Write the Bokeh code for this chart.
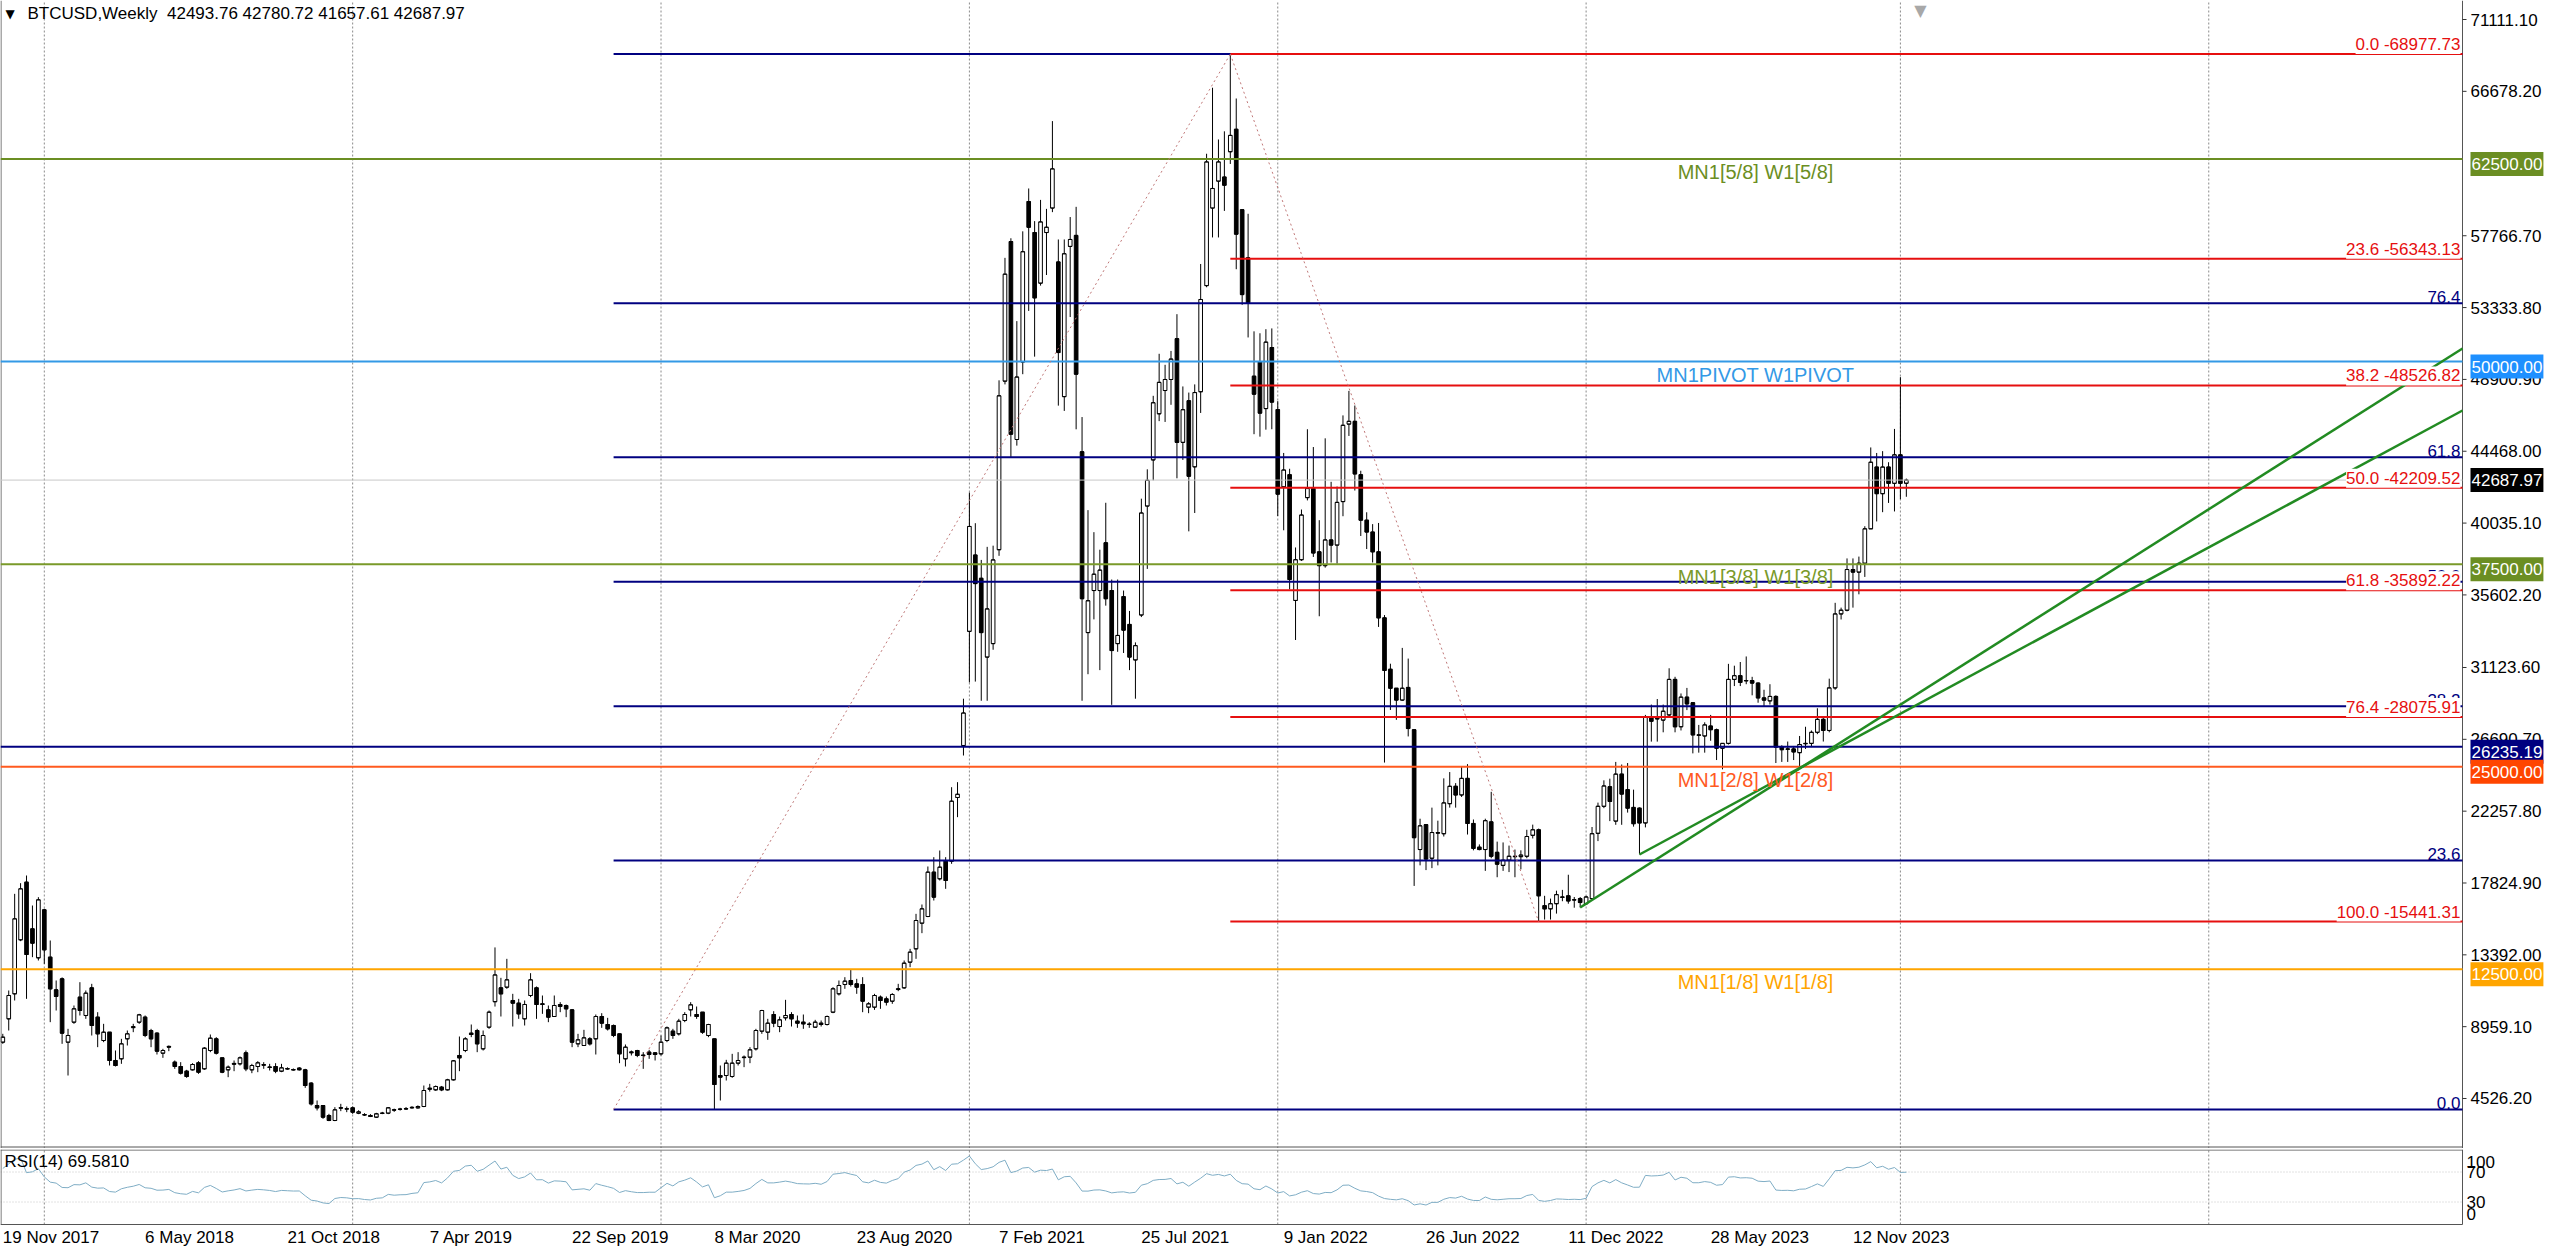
from bokeh.plotting import figure
from bokeh.models import Range1d, Label, ColumnDataSource
from bokeh.layouts import column
from bokeh.embed import file_html
from bokeh.resources import INLINE

# ---------------- data (weekly BTCUSD) ----------------
opens = [
    8002, 9442, 10985, 14317, 17876, 14996, 13206, 16169, 13248, 11232,
    11910, 8002, 9237, 10779, 9648, 11355, 9545, 8105, 8619, 6871,
    6974, 8208, 8900, 9236, 9545, 8722, 8557, 7323, 7740, 6768,
    6500, 6212, 6295, 6727, 6357, 7488, 8208, 7035, 6295, 6640,
    6665, 7344, 6295, 6500, 6580, 6440, 6500, 6212, 6370, 6310,
    6400, 6295, 5472, 4094, 4094, 3477, 3168, 3930, 3880, 3950,
    3620, 3530, 3477, 3374, 3610, 3621, 3810, 3860, 3900, 3950,
    3950, 4032, 5160, 5060, 5226, 5060, 5678, 7180, 7488, 8557,
    8722, 7591, 8927, 10500, 11355, 11396, 10574, 10409, 9442, 10882,
    11355, 10330, 9997, 9586, 10326, 10265, 9997, 7899, 7796, 8208,
    8208, 9586, 9092, 9031, 8516, 6974, 7350, 7488, 7200, 7385,
    7344, 7282, 8105, 8681, 8516, 9339, 9997, 9709, 9853, 8413,
    8208, 5945, 5945, 5884, 6707, 7050, 7077, 7591, 8681, 8619,
    9709, 8968, 9504, 9709, 9297, 9236, 9100, 8928, 9174, 9092,
    9853, 10985, 11561, 11808, 11602, 11561, 10162, 10162, 10779, 10676,
    10532, 11250, 11355, 12939, 13762, 15346, 15757, 18493, 18082, 19172,
    19172, 23100, 26310, 33354, 38064, 36628, 31766, 32597, 38392, 48795,
    57410, 45192, 49979, 59878, 57964, 54840, 57964, 59475, 56150, 47838,
    57108, 57788, 44437, 33277, 35872, 35872, 38820, 35872, 32597, 35494,
    33781, 31589, 34361, 41086, 43933, 46779, 48215, 48896, 51415, 45016,
    47586, 43505, 48140, 54689, 59475, 61137, 61389, 62951, 64337, 59374,
    56402, 49098, 49979, 47100, 50870, 47040, 42270, 43020, 35261, 37774,
    41605, 42166, 38262, 37408, 38994, 38677, 41361, 46143, 46314, 43020,
    40214, 39482, 38262, 34187, 31015, 29844, 29112, 29893, 27282, 19889,
    21426, 19352, 20900, 20865, 22719, 23793, 23256, 24281, 21499, 20035,
    19889, 21597, 19718, 18913, 19230, 19450, 19450, 19474, 20768, 21109,
    16424, 16229, 16546, 16940, 17034, 16780, 16863, 16546, 16863, 20891,
    22557, 23767, 21644, 24544, 23584, 22489, 22443, 21530, 28037, 27950,
    27876, 28196, 30389, 27466, 29293, 28949, 26940, 26896, 27512, 27284,
    26142, 26440, 30389, 30617, 30300, 30320, 30160, 29247, 29064, 29338,
    26211, 26080, 26097, 25868, 26420, 26440, 27124, 27923, 27238, 29863,
    34429, 34657, 37169, 37009, 37557, 39680, 43493, 41849, 43493, 42489,
    44247, 42493.76,
]
highs = [
    8517, 11191, 17156, 17814, 18287, 16436, 16950, 16230, 14276, 11808,
    12000, 8825, 10265, 11704, 11191, 11602, 9853, 9134, 8619, 7488,
    8208, 8722, 9134, 9750, 9648, 8825, 8619, 7591, 7797, 6871,
    6768, 6295, 6706, 6830, 7694, 8475, 8311, 7035, 6562, 6871,
    7118, 7488, 6665, 6830, 6768, 6665, 6706, 6665, 6450, 6380,
    6460, 6357, 5534, 4402, 4094, 3580, 3991, 4197, 4032, 4032,
    3800, 3620, 3560, 3640, 3700, 4000, 3900, 3950, 4000, 4050,
    4100, 5328, 5430, 5330, 5300, 5740, 6900, 8352, 8311, 9092,
    8825, 8722, 9956, 13850, 11972, 13145, 10985, 10676, 10574, 12260,
    11437, 10882, 10265, 10882, 10471, 10326, 10050, 8516, 8763, 8310,
    9709, 9791, 9504, 9092, 8516, 7859, 7488, 7529, 7385, 7529,
    7385, 8413, 8969, 8825, 9442, 9853, 10471, 10203, 9853, 9134,
    8208, 6562, 6912, 7282, 7385, 7180, 7694, 8825, 9997, 9442,
    9915, 9586, 10615, 9853, 9647, 9709, 9236, 9380, 9339, 9647,
    11396, 11808, 12013, 12466, 11910, 12013, 10471, 10985, 10882, 10820,
    11026, 11602, 13042, 13762, 15921, 16497, 18843, 19418, 19830, 19418,
    23738, 24047, 29197, 41918, 40028, 37762, 38568, 38641, 48845, 56402,
    57612, 52498, 58039, 60684, 58669, 59979, 59425, 64841, 57536, 57536,
    58921, 59551, 46578, 40834, 39475, 38392, 41288, 36552, 36552, 35872,
    34613, 32673, 41541, 43353, 47888, 50482, 49802, 50659, 52926, 48467,
    48089, 48593, 56024, 62826, 66900, 63707, 64211, 68977.73, 66236, 59374,
    59122, 51868, 51749, 52000, 52048, 47560, 44362, 43386, 38530, 40873,
    45826, 44728, 40214, 45265, 42581, 42288, 46680, 48193, 47290, 43264,
    40702, 39970, 40043, 34358, 31357, 29844, 32333, 31674, 27282, 21792,
    21426, 22475, 21670, 24281, 24671, 23988, 25013, 25159, 21743, 20206,
    21792, 23451, 20377, 20328, 20133, 19889, 19840, 21109, 21426, 21182,
    17034, 16863, 17351, 17400, 18334, 16961, 16961, 17034, 21280, 22785,
    24160, 24262, 25297, 25137, 25228, 23584, 22489, 28197, 28835, 29178,
    28835, 31074, 30549, 29521, 29863, 28949, 27580, 27740, 28196, 27352,
    26440, 31348, 31234, 31462, 31804, 30548, 30206, 29749, 30092, 29406,
    26325, 26554, 26280, 26897, 27466, 27238, 28608, 28037, 30434, 35114,
    34817, 37854, 37854, 37968, 39840, 44703, 44361, 44475, 43790, 45845,
    49041, 42780.72,
]
lows = [
    7899, 8722, 10574, 14235, 10676, 13248, 13042, 12836, 9237, 9956,
    7899, 5945, 9134, 9648, 9442, 8413, 7694, 8002, 6562, 6501,
    6665, 7797, 8620, 9134, 8311, 7694, 7241, 7035, 7447, 6357,
    6007, 5801, 6254, 6048, 6295, 7385, 7241, 6089, 5842, 6212,
    6562, 6212, 6089, 6151, 6357, 6254, 6089, 6151, 6300, 6250,
    6250, 5184, 4093, 3786, 3271, 3127, 3127, 3745, 3683, 3580,
    3560, 3450, 3380, 3330, 3560, 3560, 3700, 3780, 3820, 3900,
    3900, 3991, 4950, 5000, 4980, 5019, 5637, 6212, 7385, 8311,
    7385, 7488, 8824, 10200, 9586, 11293, 8969, 9442, 9031, 10779,
    9442, 9750, 9236, 9586, 9853, 9545, 7694, 7694, 7796, 7796,
    7241, 8887, 8722, 8311, 6707, 6501, 7180, 7077, 6357, 6974,
    6871, 7180, 8002, 8208, 8413, 9236, 9586, 9442, 8516, 8311,
    3850, 4402, 5637, 5802, 6562, 6460, 6707, 7488, 8516, 8146,
    8928, 8619, 9339, 8969, 8887, 8825, 8887, 8887, 8969, 9031,
    9791, 10882, 11294, 11437, 10985, 9853, 9791, 9997, 10059, 10265,
    10368, 11149, 11294, 12630, 13145, 14729, 15716, 16744, 17979, 17464,
    19007, 21887, 25692, 30205, 30255, 29071, 29071, 32219, 38014, 48593,
    44059, 44815, 49223, 53127, 50306, 54689, 55344, 59223, 47283, 46956,
    52750, 45822, 29071, 30709, 34092, 30961, 34940, 28818, 32093, 32018,
    30961, 29197, 34235, 37208, 42673, 46326, 46276, 47334, 42799, 43933,
    39525, 40658, 46831, 54588, 57662, 57662, 59299, 62196, 55700, 53505,
    51490, 45520, 45369, 45800, 45826, 40470, 39590, 35944, 32821, 37701,
    41434, 37945, 34285, 37286, 37603, 37530, 40458, 45411, 42044, 39238,
    38433, 37603, 33626, 25257, 28502, 27892, 29063, 26868, 17644, 18913,
    18620, 18742, 18913, 20694, 22475, 22475, 23134, 20816, 19840, 19840,
    18572, 19352, 18181, 18572, 18498, 18181, 18669, 19352, 20572, 15441.31,
    15570, 15570, 15936, 16700, 16546, 16300, 16312, 16473, 16790, 20410,
    22443, 21644, 21416, 21416, 22169, 21302, 19590, 21256, 26549, 26549,
    27124, 28105, 27124, 27238, 28494, 25823, 25868, 25868, 26600, 25412,
    24840, 26371, 29977, 29977, 30092, 29406, 28949, 28722, 28836, 25228,
    25297, 25297, 25411, 25000, 26097, 26211, 27010, 26554, 27124, 29749,
    34087, 34589, 34817, 35639, 36712, 39680, 40137, 40708, 41279, 40753,
    41507, 41657.61,
]
closes = [
    8311, 10882, 15613, 17465, 13412, 14112, 16786, 13700, 11294, 10820,
    8557, 8414, 10059, 9956, 11026, 9031, 8516, 8619, 6871, 6562,
    7899, 8516, 8960, 9689, 8413, 8208, 7447, 7488, 7694, 6500,
    6089, 5883, 6624, 6151, 7632, 8249, 7323, 6151, 6459, 6690,
    7035, 6357, 6562, 6727, 6620, 6470, 6212, 6418, 6350, 6290,
    6300, 5328, 4196, 3950, 3374, 3168, 3826, 3960, 3890, 3683,
    3700, 3510, 3415, 3580, 3620, 3950, 3830, 3870, 3880, 3980,
    4032, 5019, 5100, 5266, 5060, 5678, 6850, 7035, 8208, 8475,
    7899, 8413, 9853, 12150, 10985, 11849, 10409, 9750, 10326, 11849,
    10326, 10370, 9545, 10265, 10203, 10059, 8002, 8146, 8270, 7899,
    9586, 9174, 8824, 8413, 7282, 7694, 7400, 7180, 7180, 7241,
    7241, 8002, 8886, 8413, 9297, 9709, 10306, 9586, 8619, 9092,
    5390, 5843, 6707, 6707, 6871, 7077, 7529, 8722, 9956, 9174,
    9174, 9380, 9647, 9442, 9174, 9134, 9110, 9236, 9092, 9586,
    11294, 11499, 11767, 11561, 11396, 10532, 10368, 10882, 10574, 10471,
    10944, 11300, 12877, 13557, 15510, 16230, 18493, 16950, 18802, 17979,
    22874, 23300, 28315, 39827, 36300, 33277, 34738, 37762, 47888, 55395,
    45520, 49047, 56780, 58291, 53934, 58619, 58291, 61893, 50558, 56654,
    57536, 49223, 35368, 35242, 36880, 37132, 35368, 32169, 33101, 33428,
    31766, 32471, 40658, 42673, 47460, 48719, 48896, 50155, 45016, 47031,
    42925, 48089, 53833, 62322, 60684, 62322, 60886, 63959, 57864, 54135,
    53631, 47990, 46820, 51200, 47500, 41820, 43310, 36554, 37774, 40531,
    42166, 38189, 37408, 38994, 38677, 41312, 46070, 46314, 43069, 40214,
    39482, 38262, 34187, 30942, 29844, 29112, 29844, 27356, 20621, 21353,
    19303, 20938, 20938, 22768, 23793, 23256, 24281, 21499, 19962, 19889,
    21670, 19474, 18986, 19230, 19474, 19474, 19547, 20694, 21109, 17034,
    16229, 16546, 17107, 16961, 16717, 16790, 16619, 16961, 20865, 22557,
    23813, 22854, 24544, 23311, 22443, 21484, 21530, 28037, 27808, 27990,
    28424, 30389, 27466, 29293, 28881, 26965, 26965, 27580, 27284, 26142,
    26440, 30389, 30617, 30206, 30320, 30160, 29247, 29110, 29338, 26211,
    26051, 26097, 25914, 26371, 26440, 27124, 27923, 27238, 29863, 34429,
    34657, 37169, 37009, 37557, 39680, 43790, 41849, 43493, 42489, 44247,
    42489, 42687.97,
]
# closes of the weeks before the first visible bar (RSI warm-up only)
rsi_warmup_closes = [2500, 1950, 2750, 2750, 3200, 4000, 4100, 4350, 4600, 4200,
                     3700, 3800, 4400, 4600, 5700, 6000, 6150, 7400, 5900, 7800]

date_tick_idx = [0, 24, 48, 72, 96, 120, 144, 168, 192, 216, 240, 264, 288, 312]
date_tick_labels = ["19 Nov 2017", "6 May 2018", "21 Oct 2018", "7 Apr 2019",
                    "22 Sep 2019", "8 Mar 2020", "23 Aug 2020", "7 Feb 2021",
                    "25 Jul 2021", "9 Jan 2022", "26 Jun 2022", "11 Dec 2022",
                    "28 May 2023", "12 Nov 2023"]
year_grid_idx = [7, 59, 111, 163, 215, 267, 320, 372]
price_ticks = [4526.20, 8959.10, 13392.00, 17824.90, 22257.80, 26690.70, 31123.60,
               35602.20, 40035.10, 44468.00, 48900.90, 53333.80, 57766.70,
               66678.20, 71111.10]
rsi_ticks = [14, 30, 70, 83.3]
rsi_tick_labels = ["0", "30", "70", "100"]
rsi_levels = [30, 70]

pivot_levels = [62500, 50000, 37500, 25000, 12500]
pivot_names = ["MN1[5/8] W1[5/8]", "MN1PIVOT W1PIVOT", "MN1[3/8] W1[3/8]",
               "MN1[2/8] W1[2/8]", "MN1[1/8] W1[1/8]"]
pivot_colors = ["#6b8e23", "#3399e6", "#7a9a2a", "#ff5a1f", "#ffa500"]
pivot_box_colors = ["#6b8e23", "#1e90ff", "#6b8e23", "#ff4500", "#ffa500"]
navy_line_level = 26235.19
last_price = 42687.97

fib_pct = [0.0, 23.6, 38.2, 50.0, 61.8, 76.4, 100.0]
red_fib_hi, red_fib_lo = 68977.73, 15441.31
red_fib_idx = [207, 259]
navy_fib_lo, navy_fib_hi = 3850.0, 68977.73
navy_fib_idx = [103, 207]

trend_idx0 = [266, 276]
trend_price0 = [16312, 19583]
trend_price_edge = [50808, 46982]

header_text = "BTCUSD,Weekly\u00a0\u00a042493.76 42780.72 41657.61 42687.97"
rsi_text = "RSI(14) 69.5810"

# ---------------- layout constants ----------------
FONT = "Liberation Sans"
FS = "17px"
W = 2560
PRICE_H = 1148
RSI_FIG_H = 102
RSI_TOP = 1
RSI_FRAME_H = 75
REF_PX_PER_IDX = 5.93
X0 = -0.388
X1 = X0 + 2462 / REF_PX_PER_IDX            # position of the price scale
X_END = X0 + W / REF_PX_PER_IDX
Y_TOP = 71111.1 + 19 * 61.71
Y_BOT = 71111.1 - (PRICE_H - 19) * 61.71
UPP = (Y_TOP - Y_BOT) / PRICE_H            # price units per pixel
RSI_UPP = 100 / RSI_FRAME_H
RSI_Y0 = -(RSI_FIG_H - RSI_TOP - RSI_FRAME_H) * RSI_UPP
XPX = 1 / REF_PX_PER_IDX


def ref_x(px):
    return X0 + px / REF_PX_PER_IDX


def ref_y(py):
    return Y_TOP - py * UPP


NAVY = "#000080"
RED = "#e60f0f"
GREEN = "#228b22"
FRAME = "#555555"

# ---------------- price figure ----------------
p = figure(width=W, height=PRICE_H, x_range=Range1d(X0, X_END), y_range=Range1d(Y_BOT, Y_TOP),
           output_backend="svg", toolbar_location=None, y_axis_location=None,
           x_axis_location=None, min_border_left=0, min_border_right=0,
           min_border_top=0, min_border_bottom=0)
p.background_fill_color = "white"
p.border_fill_color = "white"
p.outline_line_color = None
p.grid.visible = False
p.segment(x0=year_grid_idx, y0=[Y_BOT] * len(year_grid_idx), x1=year_grid_idx,
          y1=[Y_TOP] * len(year_grid_idx), line_color="#8a8a8a", line_dash="2 2", line_width=1)

n = len(closes)
xs = list(range(n))
body_top = [max(o, c) for o, c in zip(opens, closes)]
body_bot = [min(o, c) for o, c in zip(opens, closes)]
src = ColumnDataSource(dict(
    x=xs, top=body_top, bottom=body_bot,
    hi=[max(h, t) for h, t in zip(highs, body_top)],
    lo=[min(l, b) for l, b in zip(lows, body_bot)],
    fill=["white" if c >= o else "black" for o, c in zip(opens, closes)],
    xl=[x - 0.31 for x in xs], xr=[x + 0.31 for x in xs], o=opens, c=closes,
))
p.segment(x0="x", y0="lo", x1="x", y1="hi", source=src, line_color="black", line_width=1)
p.vbar(x="x", width=0.62, top="top", bottom="bottom", source=src,
       fill_color="fill", line_color="black", line_width=1)
p.segment(x0="xl", y0="o", x1="xr", y1="o", source=src, line_color="black", line_width=1)
p.segment(x0="xl", y0="c", x1="xr", y1="c", source=src, line_color="black", line_width=1)

# frame lines of the price window
p.segment(x0=[X0 + 0.5 * XPX, X0, X1], y0=[Y_BOT, Y_BOT + 1.5 * UPP, Y_BOT],
          x1=[X0 + 0.5 * XPX, X1, X1], y1=[Y_TOP, Y_BOT + 1.5 * UPP, Y_TOP],
          line_color=FRAME, line_width=1)

# horizontal levels
p.segment(x0=[X0], y0=[last_price], x1=[X1], y1=[last_price], line_color="#c8c8c8", line_width=1)
p.segment(x0=[X0] * len(pivot_levels), y0=pivot_levels, x1=[X1] * len(pivot_levels),
          y1=pivot_levels, line_color=pivot_colors, line_width=2)
p.segment(x0=[X0], y0=[navy_line_level], x1=[X1], y1=[navy_line_level], line_color=NAVY,
          line_width=2)

# fibonacci levels
navy_levels = [navy_fib_lo + q / 100 * (navy_fib_hi - navy_fib_lo) for q in fib_pct]
red_levels = [red_fib_hi - q / 100 * (red_fib_hi - red_fib_lo) for q in fib_pct]
p.segment(x0=[navy_fib_idx[0]] * len(fib_pct), y0=navy_levels, x1=[X1] * len(fib_pct),
          y1=navy_levels, line_color=NAVY, line_width=2)
p.segment(x0=[red_fib_idx[0]] * len(fib_pct), y0=red_levels, x1=[X1] * len(fib_pct),
          y1=red_levels, line_color=RED, line_width=2)
p.line(navy_fib_idx, [navy_fib_lo, navy_fib_hi], line_color="#c07878", line_dash="2 3",
       line_width=1)
p.line(red_fib_idx, [red_fib_hi, red_fib_lo], line_color="#c07878", line_dash="2 3",
       line_width=1)

# trend lines
p.segment(x0=trend_idx0, y0=trend_price0, x1=[X1, X1], y1=trend_price_edge,
          line_color=GREEN, line_width=2.5)

# price scale ticks and labels
p.segment(x0=[X1] * len(price_ticks), y0=price_ticks, x1=[X1 + 4 * XPX] * len(price_ticks),
          y1=price_ticks, line_color="#333333", line_width=1)
for t in price_ticks:
    p.add_layout(Label(x=X1, y=t, x_offset=8, text=f"{t:.2f}", text_align="left",
                       text_baseline="middle", text_font=FONT, text_font_size=FS,
                       text_color="black"))

# navy fib labels
for q, lvl in zip(fib_pct, navy_levels):
    p.add_layout(Label(x=X1, y=lvl, x_offset=-2, text=f"{q:.1f}", text_align="right",
                       text_baseline="bottom", text_font=FONT, text_font_size=FS,
                       text_color=NAVY))

# red fib labels (opaque, they hide what lies under them)
for q, lvl in zip(fib_pct, red_levels):
    p.add_layout(Label(x=X1, y=lvl, x_offset=-2, text=f"{q:.1f} -{lvl:.2f}", text_align="right",
                       text_baseline="bottom", text_font=FONT, text_font_size=FS,
                       text_color=RED, background_fill_color="white"))

# pivot names
for lvl, name, col in zip(pivot_levels, pivot_names, pivot_colors):
    p.add_layout(Label(x=ref_x(1755), y=lvl, y_offset=-2, text=name, text_align="center",
                       text_baseline="top", text_font=FONT, text_font_size="20px",
                       text_color=col))

# price boxes on the scale
box_levels = pivot_levels[:2] + [pivot_levels[2], navy_line_level] + pivot_levels[3:]
box_colors = pivot_box_colors[:2] + [pivot_box_colors[2], NAVY] + pivot_box_colors[3:]
for lvl, col in zip(box_levels, box_colors):
    p.add_layout(Label(x=X1, y=lvl, x_offset=8, y_offset=-5, text=f"{lvl:.2f}",
                       text_align="left", text_baseline="middle", text_font=FONT,
                       text_font_size=FS, text_color="white", background_fill_color=col,
                       padding=(1, 6)))
p.add_layout(Label(x=X1, y=last_price, x_offset=8, text=f"{last_price:.2f}",
                   text_align="left", text_baseline="middle", text_font=FONT,
                   text_font_size=FS, text_color="white", background_fill_color="#000000",
                   padding=(1, 6)))

# header
p.add_layout(Label(x=ref_x(5), y=ref_y(13), text="\u25bc", text_align="left",
                   text_baseline="middle", text_font="DejaVu Sans", text_font_size="12px",
                   text_color="black"))
p.add_layout(Label(x=ref_x(27), y=ref_y(13), text=header_text, text_align="left",
                   text_baseline="middle", text_font=FONT, text_font_size=FS,
                   text_color="black"))
p.add_layout(Label(x=ref_x(1920), y=Y_TOP, text="\u25bc", text_align="center",
                   text_baseline="top", text_font="DejaVu Sans", text_font_size="16px",
                   text_color="#a8a8a8"))

# ---------------- RSI ----------------
all_closes = rsi_warmup_closes + closes
period = 14
gains = [max(all_closes[i] - all_closes[i - 1], 0) for i in range(1, len(all_closes))]
losses = [max(all_closes[i - 1] - all_closes[i], 0) for i in range(1, len(all_closes))]
avg_g = sum(gains[:period]) / period
avg_l = sum(losses[:period]) / period
rsi_all = [None] * (period + 1)
rsi_all[period] = 100 - 100 / (1 + avg_g / avg_l) if avg_l > 0 else 100
for i in range(period, len(gains)):
    avg_g = (avg_g * (period - 1) + gains[i]) / period
    avg_l = (avg_l * (period - 1) + losses[i]) / period
    rsi_all.append(100 - 100 / (1 + avg_g / avg_l) if avg_l > 0 else 100)
rsi_vals = rsi_all[len(rsi_warmup_closes):]

r = figure(width=W, height=RSI_FIG_H, x_range=p.x_range,
           y_range=Range1d(RSI_Y0, 100), output_backend="svg", toolbar_location=None,
           y_axis_location=None, x_axis_location=None, min_border_left=0,
           min_border_right=0, min_border_top=RSI_TOP, min_border_bottom=0)
r.background_fill_color = "white"
r.border_fill_color = "white"
r.outline_line_color = None
r.grid.visible = False
r.segment(x0=year_grid_idx, y0=[0] * len(year_grid_idx), x1=year_grid_idx,
          y1=[100] * len(year_grid_idx), line_color="#8a8a8a", line_dash="2 2", line_width=1)
r.segment(x0=[X0] * len(rsi_levels), y0=rsi_levels, x1=[X1] * len(rsi_levels), y1=rsi_levels,
          line_color="#c4c4c4", line_dash="1 2", line_width=1)
r.line(xs, rsi_vals, line_color="#7fadc5", line_width=1)
r.segment(x0=[X0, X0, X0 + 0.5 * XPX, X1], y0=[100 - 0.5 * RSI_UPP, 0, 0, 0],
          x1=[X1, X1, X0 + 0.5 * XPX, X1], y1=[100 - 0.5 * RSI_UPP, 0, 100, 100],
          line_color=FRAME, line_width=1)
for t, lab in zip(rsi_ticks, rsi_tick_labels):
    r.add_layout(Label(x=X1, y=t, x_offset=4, text=lab, text_align="left",
                       text_baseline="middle", text_font=FONT, text_font_size=FS,
                       text_color="black"))
r.add_layout(Label(x=ref_x(4), y=84.5, text=rsi_text, text_align="left",
                   text_baseline="middle", text_font=FONT, text_font_size=FS,
                   text_color="black"))
for ix, lab in zip(date_tick_idx, date_tick_labels):
    r.add_layout(Label(x=ix, y=0, y_offset=-3, text=lab, text_align="left",
                       text_baseline="top", text_font=FONT, text_font_size=FS,
                       text_color="black"))

layout = column(p, r, spacing=0)
open("out.html", "w").write(file_html(layout, INLINE, title="BTCUSD Weekly"))
